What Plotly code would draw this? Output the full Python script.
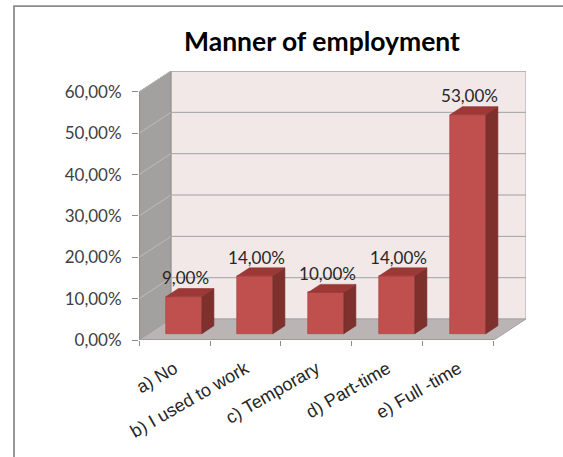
import plotly.graph_objects as go

# ---- data ----
categories = ["a) No", "b) I used to work", "c) Temporary", "d) Part-time", "e) Full -time"]
values = [0.09, 0.14, 0.10, 0.14, 0.53]
y_ticks = [0.0, 0.1, 0.2, 0.3, 0.4, 0.5, 0.6]
title_text = "Manner of employment"

# ---- pseudo-3D geometry (data units) ----
DX = 0.45        # depth offset along x (category units)
DY = 0.0507      # depth offset along y (value units)
F = 0.30         # bar front position within depth
BW = 0.50        # bar width
BDX = 0.17       # bar depth x
BDY = 0.0193     # bar depth y
x_lo, x_hi = -0.5, len(categories) - 0.5
y_top = y_ticks[-1]

fig = go.Figure()

# bars (front faces)
base = F * DY
fig.add_trace(go.Bar(
    x=list(range(len(categories))), y=values, base=base,
    width=BW, offset=F * DX - BW / 2,
    marker=dict(color="#C0504D", line=dict(color="#A8413E", width=0.6)),
    hoverinfo="skip", showlegend=False,
))

# side and top faces
sx, sy, tx, ty = [], [], [], []
for i, v in enumerate(values):
    xl = i + F * DX - BW / 2
    xr = xl + BW
    top = base + v
    sx += [xr, xr, xr + BDX, xr + BDX, xr, None]
    sy += [base, top, top + BDY, base + BDY, base, None]
    tx += [xl, xr, xr + BDX, xl + BDX, xl, None]
    ty += [top, top, top + BDY, top + BDY, top, None]
fig.add_trace(go.Scatter(x=sx, y=sy, fill="toself", fillcolor="#7E302D", mode="lines",
                         line=dict(color="#722B29", width=0.6), hoverinfo="skip", showlegend=False))
fig.add_trace(go.Scatter(x=tx, y=ty, fill="toself", fillcolor="#9C3936", mode="lines",
                         line=dict(color="#8E3431", width=0.6), hoverinfo="skip", showlegend=False))

# value labels
labels = [f"{v * 100:.2f}%".replace(".", ",") for v in values]
fig.add_trace(go.Scatter(
    x=[i + F * DX + 0.02 for i in range(len(values))],
    y=[base + v + BDY for v in values],
    mode="text", text=labels, textposition="top center",
    textfont=dict(family="Lato", size=17, color="#262626"),
    hoverinfo="skip", showlegend=False,
))

# invisible trace for the boundary-tick axis
fig.add_trace(go.Scatter(x=[x_lo], y=[0], xaxis="x2", mode="markers",
                         marker=dict(opacity=0), hoverinfo="skip", showlegend=False))

shapes = []
# back wall
shapes.append(dict(type="rect", xref="x", yref="y", x0=x_lo + DX, x1=x_hi + DX, y0=DY, y1=y_top + DY,
                   fillcolor="#F3E8E8", line=dict(color="#A8A8A8", width=1), layer="below"))
# side wall
shapes.append(dict(type="path", xref="x", yref="y",
                   path=f"M {x_lo},0 L {x_lo + DX},{DY} L {x_lo + DX},{y_top + DY} L {x_lo},{y_top} Z",
                   fillcolor="#A3A0A0", line=dict(color="#8F8D8D", width=1), layer="below"))
# floor
shapes.append(dict(type="path", xref="x", yref="y",
                   path=f"M {x_lo},0 L {x_hi},0 L {x_hi + DX},{DY} L {x_lo + DX},{DY} Z",
                   fillcolor="#BAB4B4", line=dict(color="#A3A3A3", width=1), layer="below"))
# gridlines
for t in y_ticks[1:]:
    shapes.append(dict(type="line", xref="x", yref="y", x0=x_lo + DX, x1=x_hi + DX, y0=t + DY, y1=t + DY,
                       line=dict(color="#A0A0A0", width=1), layer="below"))
    shapes.append(dict(type="line", xref="x", yref="y", x0=x_lo, x1=x_lo + DX, y0=t, y1=t + DY,
                       line=dict(color="#BDBBBB", width=1), layer="below"))
# front vertical axis line
shapes.append(dict(type="line", xref="x", yref="y", x0=x_lo, x1=x_lo, y0=0, y1=y_top,
                   line=dict(color="#8C8C8C", width=1)))
# front bottom axis line
shapes.append(dict(type="line", xref="x", yref="y", x0=x_lo, x1=x_hi, y0=0, y1=0,
                   line=dict(color="#8C8C8C", width=1)))
# outer frame (cropped on right and bottom)
shapes.append(dict(type="path", xref="paper", yref="paper",
                   path="M 1.2,1.241 L -0.323,1.241 L -0.323,-0.5",
                   line=dict(color="#8C8C8C", width=1.8)))

x_range = [x_lo, x_hi + DX + 0.001]
fig.update_layout(
    width=563, height=457,
    margin=dict(l=139, r=37, t=71, b=116.5),
    paper_bgcolor="white", plot_bgcolor="rgba(0,0,0,0)",
    separators=",.",
    bargap=0,
    title=dict(text=f"<b>{title_text}</b>", x=322 / 563, xref="container", xanchor="center",
               y=1 - 42 / 457, yref="container", yanchor="middle",
               font=dict(family="Lato", size=26.5, color="#000000")),
    xaxis=dict(range=x_range, tickmode="array", tickvals=list(range(len(categories))),
               ticktext=categories, tickangle=-30, ticks="", showgrid=False, zeroline=False,
               showline=False, ticklabelstandoff=14,
               tickfont=dict(family="Liberation Sans", size=18, color="#262626")),
    xaxis2=dict(range=x_range, overlaying="x", anchor="y", side="bottom", tickmode="array",
                tickvals=[x_lo + k for k in range(len(categories) + 1)], ticks="outside", ticklen=5,
                tickcolor="#8C8C8C", showticklabels=False, showgrid=False, zeroline=False, showline=False),
    yaxis=dict(range=[0, y_top + DY], tickmode="array", tickvals=y_ticks, tickformat=".2%",
               ticks="outside", ticklen=6, tickcolor="#8C8C8C", showgrid=False, zeroline=False,
               showline=False, ticklabelstandoff=7,
               tickfont=dict(family="Lato", size=17, color="#404040")),
    shapes=shapes,
)

fig.write_html("out.html", config={"displayModeBar": False})
